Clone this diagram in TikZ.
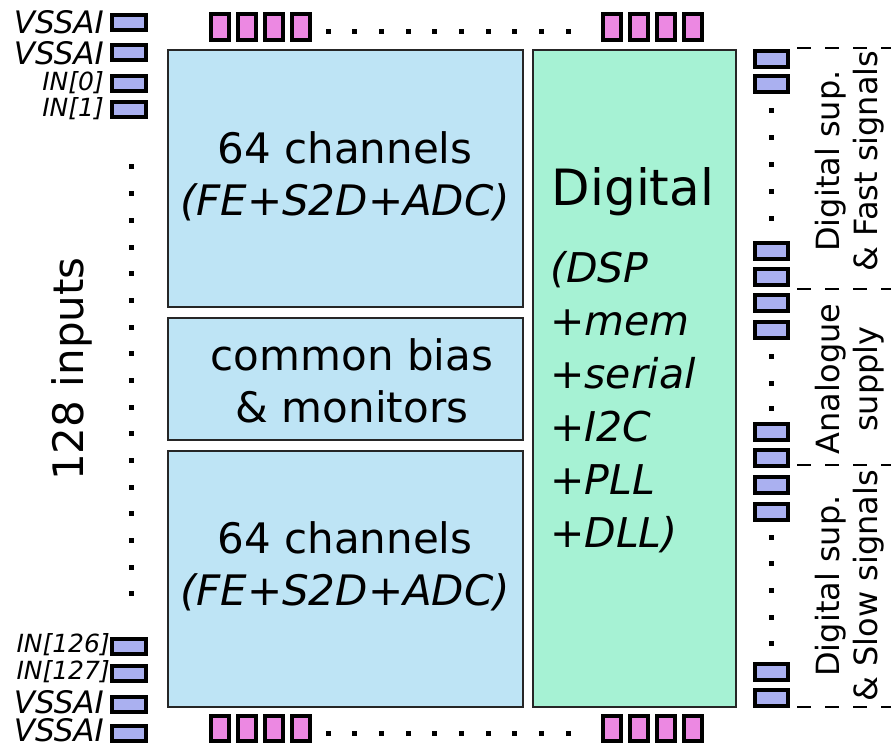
\documentclass[tikz,border=0pt]{standalone}
\usepackage{fontspec}
\setmainfont{DejaVu Sans}
\definecolor{bloqueazul}{RGB}{190,228,245}
\definecolor{bloqueverde}{RGB}{166,242,212}
\definecolor{padazul}{RGB}{170,176,240}
\definecolor{padrosa}{RGB}{236,136,226}
\newcommand{\tam}[2]{\fontsize{#1}{#2}\selectfont}
\tikzset{
	bloque/.style={draw=black!85, line width=2pt, inner sep=0pt, anchor=north west},
	pad/.style={draw=black, line width=4pt},
	punto/.style={fill=black},
	separador/.style={draw=black, line width=1.5pt, dash pattern=on 14pt off 14pt},
}
\begin{document}
\begin{tikzpicture}[x=1pt, y=-1pt]
		\useasboundingbox (0,0) rectangle (891,746);
		% Bloques analógicos
		\node[bloque, fill=bloqueazul, minimum width=355pt, minimum height=257pt] (canalesA) at (167,49) {};
		\node[bloque, fill=bloqueazul, minimum width=355pt, minimum height=122pt] (bias) at (167,317) {};
		\node[bloque, fill=bloqueazul, minimum width=355pt, minimum height=256pt] (canalesB) at (167,450) {};
		% Bloque digital
		\node[bloque, fill=bloqueverde, minimum width=203pt, minimum height=657pt] (digital) at (532,49) {};
		% Textos de los bloques
		\node[align=center, font=\tam{42}{52}, inner sep=0pt] (txtA) at (345,176)
			{64 channels\\\itshape (FE+S2D+ADC)};
		\node[align=center, font=\tam{42}{52}, inner sep=0pt] (txtBias) at (352,381)
			{common bias\\\& monitors};
		\node[align=center, font=\tam{42}{52}, inner sep=0pt] (txtB) at (345,566)
			{64 channels\\\itshape (FE+S2D+ADC)};
		\node[font=\tam{50}{60}, inner sep=0pt] (txtDig) at (633,192) {Digital};
		\node[anchor=north west, align=left, inner sep=0pt, font=\tam{41}{53}\itshape] (txtLista) at (550,251)
			{(DSP\\+mem\\+serial\\+I2C\\+PLL\\+DLL)};
		% Entradas a la izquierda
		\node[rotate=90, font=\tam{42}{52}, inner sep=0pt] (entradas) at (72,369) {128 inputs};
		\node[anchor=east, font=\tam{31}{36}\itshape, inner sep=0pt] (vssA) at (104,22) {VSSAI};
		\node[anchor=east, font=\tam{31}{36}\itshape, inner sep=0pt] (vssB) at (104,53) {VSSAI};
		\node[anchor=east, font=\tam{25}{30}\itshape, inner sep=0pt] (in0) at (104,83) {IN[0]};
		\node[anchor=east, font=\tam{25}{30}\itshape, inner sep=0pt] (in1) at (104,109) {IN[1]};
		\node[anchor=east, font=\tam{25}{30}\itshape, inner sep=0pt] (in126) at (110,645) {IN[126]};
		\node[anchor=east, font=\tam{25}{30}\itshape, inner sep=0pt] (in127) at (110,672) {IN[127]};
		\node[anchor=east, font=\tam{31}{36}\itshape, inner sep=0pt] (vssC) at (104,702) {VSSAI};
		\node[anchor=east, font=\tam{31}{36}\itshape, inner sep=0pt] (vssD) at (104,730) {VSSAI};
		\foreach \y in {13,43,74,100,637,664,695,724}
			\draw[pad, fill=padazul] (112,\y+2) rectangle (146,\y+17);
		\foreach \k in {0,...,16}
			\fill[punto] (128.5,164.5+26.67*\k) rectangle ++(5,5);
		% Pads superiores e inferiores
		\foreach \x in {209,236,263,290,601,628,655,682} {
			\draw[pad, fill=padrosa] (\x+2,14) rectangle (\x+20,40);
			\draw[pad, fill=padrosa] (\x+2,716) rectangle (\x+20,741);
		}
		\foreach \k in {0,...,9} {
			\fill[punto] (325.5+26.67*\k,29.5) rectangle ++(5,5);
			\fill[punto] (325.5+26.67*\k,730.5) rectangle ++(5,5);
		}
		% Pads a la derecha
		\foreach \y in {49,74,241,267,293,320,422,448,475,502,662,688}
			\draw[pad, fill=padazul] (755,\y+2) rectangle (788,\y+18);
		\foreach \y in {111,138,165,192,218,356,383,408,537,563,590,617,643}
			\fill[punto] (768.5,\y-2.5) rectangle ++(5,5);
		% Separadores y grupos
		\foreach \y in {48,289,465,707}
			\draw[separador] (797,\y) -- (891,\y);
		\node[rotate=90, align=center, font=\tam{32}{38}, inner sep=0pt] (rapidas) at (850,161)
			{Digital sup.\\\& Fast signals};
		\node[rotate=90, align=center, font=\tam{32}{38}, inner sep=0pt] (analog) at (850,379)
			{Analogue\\supply};
		\node[rotate=90, align=center, font=\tam{32}{38}, inner sep=0pt] (lentas) at (850,586)
			{Digital sup.\\\& Slow signals};
	\end{tikzpicture}
\end{document}
